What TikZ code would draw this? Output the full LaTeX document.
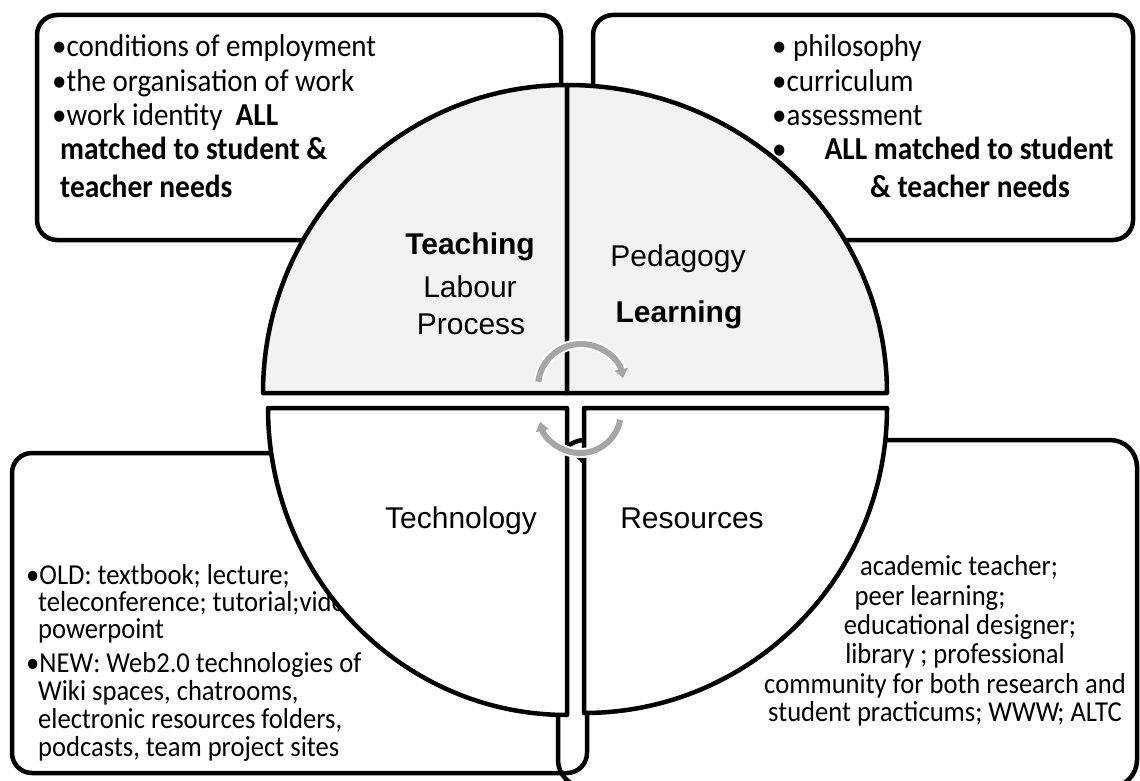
\documentclass[tikz,border=0pt]{standalone}
\usepackage{fontspec}
\newfontfamily\calfont[FakeStretch=0.92]{Carlito}
\newfontfamily\arialfont{Liberation Sans}
\usetikzlibrary{arrows.meta}
\definecolor{qgray}{HTML}{F2F2F2}
\definecolor{agray}{HTML}{A6A6A6}
\begin{document}
\begin{tikzpicture}[x=1pt,y=-1pt,
  outline/.style={draw=black,line width=4.5pt},
  tbox/.style={outline,rounded corners=20pt},
  quarter/.style={outline,line join=round},
  ttxt/.style={font=\calfont\fontsize{31.5}{34}\selectfont,inner sep=0pt,anchor=base west},
  tbold/.style={font=\calfont\bfseries\fontsize{32}{34}\selectfont,inner sep=0pt,anchor=base west},
  btxt/.style={font=\calfont\fontsize{28.9}{30}\selectfont,inner sep=0pt,anchor=base west},
  qlab/.style={font=\arialfont\fontsize{30}{34}\selectfont,inner sep=0pt,anchor=base},
  qbold/.style={font=\arialfont\bfseries\fontsize{30}{34}\selectfont,inner sep=0pt,anchor=base},
  cyc/.style={draw=agray,line width=6pt,preaction={draw=white,line width=10pt}}
]
\useasboundingbox (0,0) rectangle (1140,781);
\fill[white] (0,0) rectangle (1140,781);
\clip (0,0) rectangle (1140,781);

% outer boxes
\draw[tbox] (37,15) rectangle (561,240);
\draw[tbox] (593,15) rectangle (1133,240);
\draw[tbox] (12,453) rectangle (587,773);
\draw[outline,rounded corners=27pt] (558,440) rectangle (1137,787);

% top-left text
\node[ttxt] (tl1) at (52,57) {\textbullet conditions of employment};
\node[ttxt] (tl2) at (52,92) {\textbullet the organisation of work};
\node[ttxt] (tl3) at (52,125) {\textbullet work identity\ \ {\bfseries\fontsize{32}{34}\selectfont ALL}};
\node[tbold] (tl4) at (60,160) {matched to student \&};
\node[tbold] (tl5) at (60,197) {teacher needs};

% top-right text
\node[ttxt] (tr1) at (772,57) {\textbullet\ philosophy};
\node[ttxt] (tr2) at (772,92) {\textbullet curriculum};
\node[ttxt] (tr3) at (772,125) {\textbullet assessment};
\node[ttxt] (tr4) at (772,160) {\textbullet};
\node[tbold,anchor=base] (tr5) at (969,160) {ALL matched to student};
\node[tbold,anchor=base] (tr6) at (970,197) {\& teacher needs};

% bottom-left text
\node[btxt] (bl1) at (26,584) {\textbullet OLD: textbook; lecture;};
\node[btxt] (bl2) at (38,611) {teleconference; tutorial;video};
\node[btxt] (bl3) at (38,638) {powerpoint};
\node[btxt] (bl4) at (26,672) {\textbullet NEW: Web2.0 technologies of};
\node[btxt] (bl5) at (38,700) {Wiki spaces, chatrooms,};
\node[btxt] (bl6) at (38,728) {electronic resources folders,};
\node[btxt] (bl7) at (38,756) {podcasts, team project sites};

% bottom-right text
\node[btxt,anchor=base] (br1) at (959,575) {academic teacher;};
\node[btxt,anchor=base] (br2) at (930,605) {peer learning;};
\node[btxt,anchor=base] (br3) at (960,634) {educational designer;};
\node[btxt,anchor=base] (br4) at (955,663) {library ; professional};
\node[btxt,anchor=base] (br5) at (945,693) {community for both research and};
\node[btxt,anchor=base] (br6) at (945,721) {student practicums; WWW; ALTC};

% quarters
\filldraw[quarter,fill=qgray] (567,393) -- (263,393) arc[start angle=180,end angle=270,x radius=304,y radius=308] -- cycle;
\filldraw[quarter,fill=qgray] (567,393) -- (567,85) arc[start angle=270,end angle=360,x radius=320,y radius=308] -- cycle;
\filldraw[quarter,fill=white] (567,408) -- (268,408) arc[start angle=180,end angle=90,x radius=299,y radius=307] -- cycle;
\filldraw[quarter,fill=white] (584,408) -- (887,408) arc[start angle=0,end angle=90,x radius=303,y radius=305] -- cycle;

% quarter labels
\node[qbold] (q1) at (470,254) {Teaching};
\node[qlab] (q2) at (470,297) {Labour};
\node[qlab] (q3) at (471,334) {Process};
\node[qlab] (q4) at (678,266) {Pedagogy};
\node[qbold] (q5) at (679,322) {Learning};
\node[qlab] (q6) at (461,528) {Technology};
\node[qlab] (q7) at (692,528) {Resources};

% cycle arrows
\coordinate (cu) at (581,387);
\coordinate (cl) at (580,412);
\draw[cyc,-{Triangle[length=9pt,width=13pt]}] ([shift={(187:43)}]cu) arc[start angle=187,end angle=348,radius=43];
\draw[cyc,-{Triangle[length=9pt,width=13pt]}] ([shift={(11:41)}]cl) arc[start angle=11,end angle=166,radius=41];
\end{tikzpicture}
\end{document}
